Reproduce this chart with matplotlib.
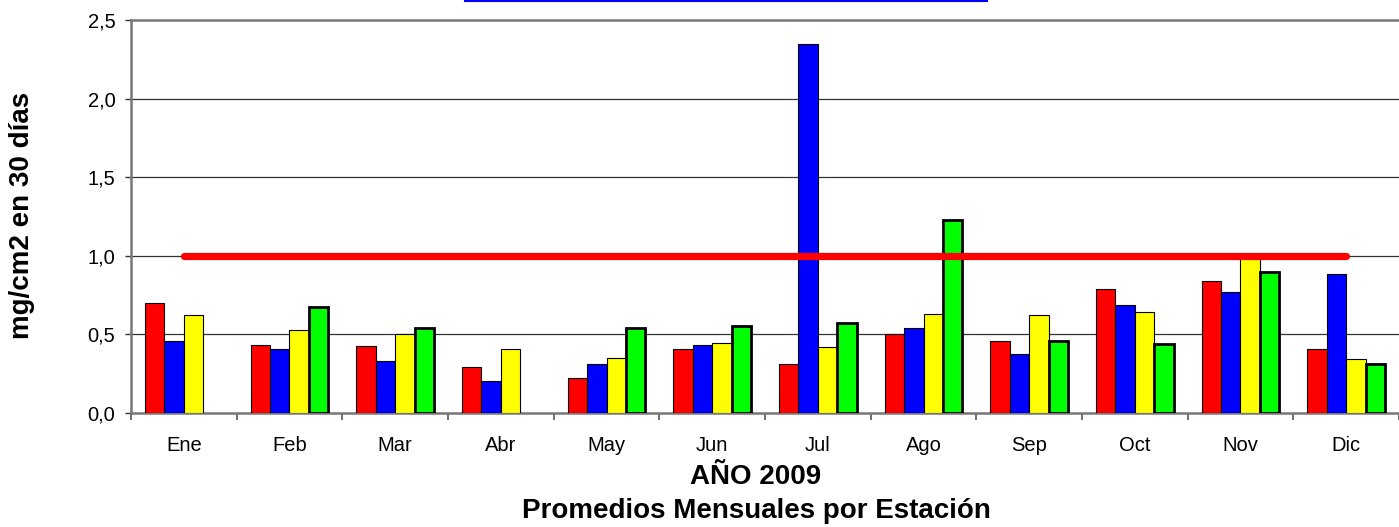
import numpy as np
import matplotlib
matplotlib.use("Agg")
import matplotlib.pyplot as plt
from matplotlib.ticker import FuncFormatter

plt.rcParams['font.family'] = ['Liberation Sans', 'DejaVu Sans']

months = ["Ene", "Feb", "Mar", "Abr", "May", "Jun", "Jul", "Ago", "Sep", "Oct", "Nov", "Dic"]
station_red = [0.70, 0.435, 0.425, 0.29, 0.22, 0.41, 0.31, 0.50, 0.458, 0.79, 0.84, 0.407]
station_blue = [0.458, 0.405, 0.333, 0.206, 0.31, 0.43, 2.35, 0.539, 0.373, 0.689, 0.768, 0.882]
station_yellow = [0.623, 0.526, 0.505, 0.41, 0.352, 0.447, 0.418, 0.632, 0.621, 0.64, 0.995, 0.345]
station_green = [np.nan, 0.676, 0.543, np.nan, 0.539, 0.551, 0.574, 1.228, 0.456, 0.437, 0.899, 0.312]
limit = [1.0] * 12

series = [
    (station_red, "#ff0000", 0.8),
    (station_blue, "#0000ff", 0.8),
    (station_yellow, "#ffff00", 0.8),
    (station_green, "#00ff00", 2.0),
]

fig = plt.figure(figsize=(13.99, 5.27), dpi=100)
ax = fig.add_axes([131/1399, 1 - 413/527, 1 - 131/1399, (413 - 20)/527])

x = np.arange(len(months))
w = 0.183
for i, (vals, col, lw) in enumerate(series):
    ax.bar(x + (i - 1.5) * w, vals, width=w, color=col, edgecolor="black",
           linewidth=lw, zorder=3)

ax.plot(x, limit, color="#ff0000", linewidth=5.2, solid_capstyle="round", zorder=4)

ax.set_xlim(-0.5, len(months) - 0.5)
ax.set_ylim(0, 2.5)
ax.set_yticks([0, 0.5, 1.0, 1.5, 2.0, 2.5])
ax.yaxis.set_major_formatter(FuncFormatter(lambda v, p: f"{v:.1f}".replace(".", ",")))
for yv in [0.5, 1.0, 1.5, 2.0]:
    ax.axhline(yv, color="#333333", linewidth=0.9, zorder=1)

ax.set_xticks(np.arange(-0.5, len(months), 1.0))
ax.set_xticklabels([])
ax.set_xticks(x, minor=True)
ax.set_xticklabels(months, minor=True)
ax.tick_params(axis="x", which="major", direction="out", length=5, width=1.2, color="#555555")
ax.tick_params(axis="x", which="minor", length=0, pad=16.5, labelsize=14.5)
ax.tick_params(axis="y", direction="out", length=4.3, width=1.0, color="#333333",
               labelsize=14.5, pad=7)

for s in ["left", "bottom", "top"]:
    ax.spines[s].set_color("#777777")
    ax.spines[s].set_linewidth(1.8)
ax.spines["right"].set_visible(False)

fig.text(22 / 1399, 1 - 215.5 / 527, "mg/cm2 en 30 días", rotation=90, ha="center",
         va="center", fontsize=20, fontweight="bold")

fig.text(756 / 1399, 1 - 476.5 / 527, "AÑO 2009", ha="center", va="center",
         fontsize=20, fontweight="bold")
fig.text(756 / 1399, 1 - 511 / 527, "Promedios Mensuales por Estación",
         ha="center", va="center", fontsize=20, fontweight="bold")

fig.add_artist(matplotlib.lines.Line2D([465/1399, 987/1399], [1 - 1/527, 1 - 1/527],
                                       color="#0000ff", linewidth=1.5,
                                       transform=fig.transFigure))

fig.savefig("out.png", dpi=100)
